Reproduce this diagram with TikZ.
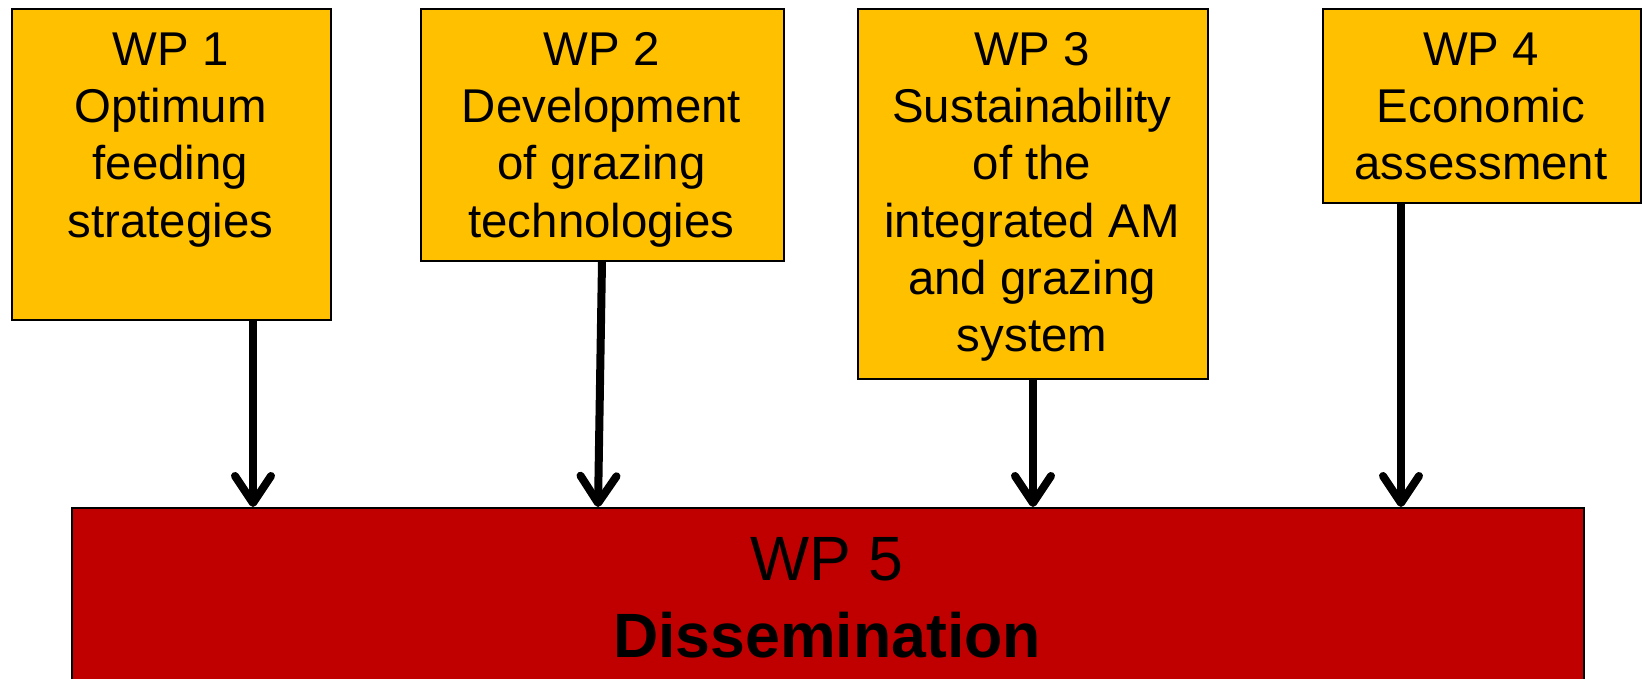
\documentclass[tikz,border=0pt]{standalone}
\usepackage{fontspec}
\setmainfont{Liberation Sans}
\usetikzlibrary{arrows.meta}
\definecolor{wpyellow}{HTML}{FFC000}
\definecolor{wpred}{HTML}{C00000}
\begin{document}
\begin{tikzpicture}[x=0.5pt,y=-0.5pt,
  wpbox/.style={draw=black, line width=0.8pt, fill=wpyellow, inner sep=0pt, anchor=north west},
  wptext/.style={anchor=north, align=center, inner sep=0pt, font=\fontsize{23.7pt}{28.6pt}\selectfont},
  bigtext/.style={anchor=north, align=center, inner sep=0pt, font=\fontsize{31.3pt}{38.5pt}\selectfont},
  arr/.style={line width=4pt, -{Straight Barb[length=13.5pt,width=18pt,round]}}]
\clip (0,0) rectangle (1642,679);
\fill[white] (0,0) rectangle (1642,679);
% boxes
\node[wpbox, minimum width=159.5pt, minimum height=155.5pt] (wp1) at (11,8) {};
\node[wpbox, minimum width=181.5pt, minimum height=126pt] (wp2) at (420,8) {};
\node[wpbox, minimum width=175pt, minimum height=185pt] (wp3) at (857,8) {};
\node[wpbox, minimum width=159pt, minimum height=97pt] (wp4) at (1322,8) {};
\node[draw=black, line width=1.2pt, fill=wpred, inner sep=0pt, anchor=north west,
      minimum width=756pt, minimum height=120pt] (wp5) at (71,507) {};
% texts
\node[wptext] (t1) at (170.5,17.6) {\rule{0pt}{1em}WP 1\\Optimum\\feeding\\strategies};
\node[wptext] (t2) at (601.5,17.6) {\rule{0pt}{1em}WP 2\\Development\\of grazing\\technologies};
\node[wptext] (t3) at (1032,17.6) {\rule{0pt}{1em}WP 3\\Sustainability\\of the\\integrated AM\\and grazing\\system};
\node[wptext] (t4) at (1481,17.6) {\rule{0pt}{1em}WP 4\\Economic\\assessment};
\node[bigtext] (t5) at (827,517.4) {\rule{0pt}{1em}WP 5\\\textbf{Dissemination}};
% arrow positions
\coordinate (x1) at (253,0);
\coordinate (x2a) at (602,0);
\coordinate (x2b) at (598,0);
\coordinate (x3) at (1033,0);
\coordinate (x4) at (1401,0);
\draw[arr] (wp1.south -| x1) -- (wp5.north -| x1);
\draw[arr] (wp2.south -| x2a) -- (wp5.north -| x2b);
\draw[arr] (wp3.south -| x3) -- (wp5.north -| x3);
\draw[arr] (wp4.south -| x4) -- (wp5.north -| x4);
\end{tikzpicture}
\end{document}
